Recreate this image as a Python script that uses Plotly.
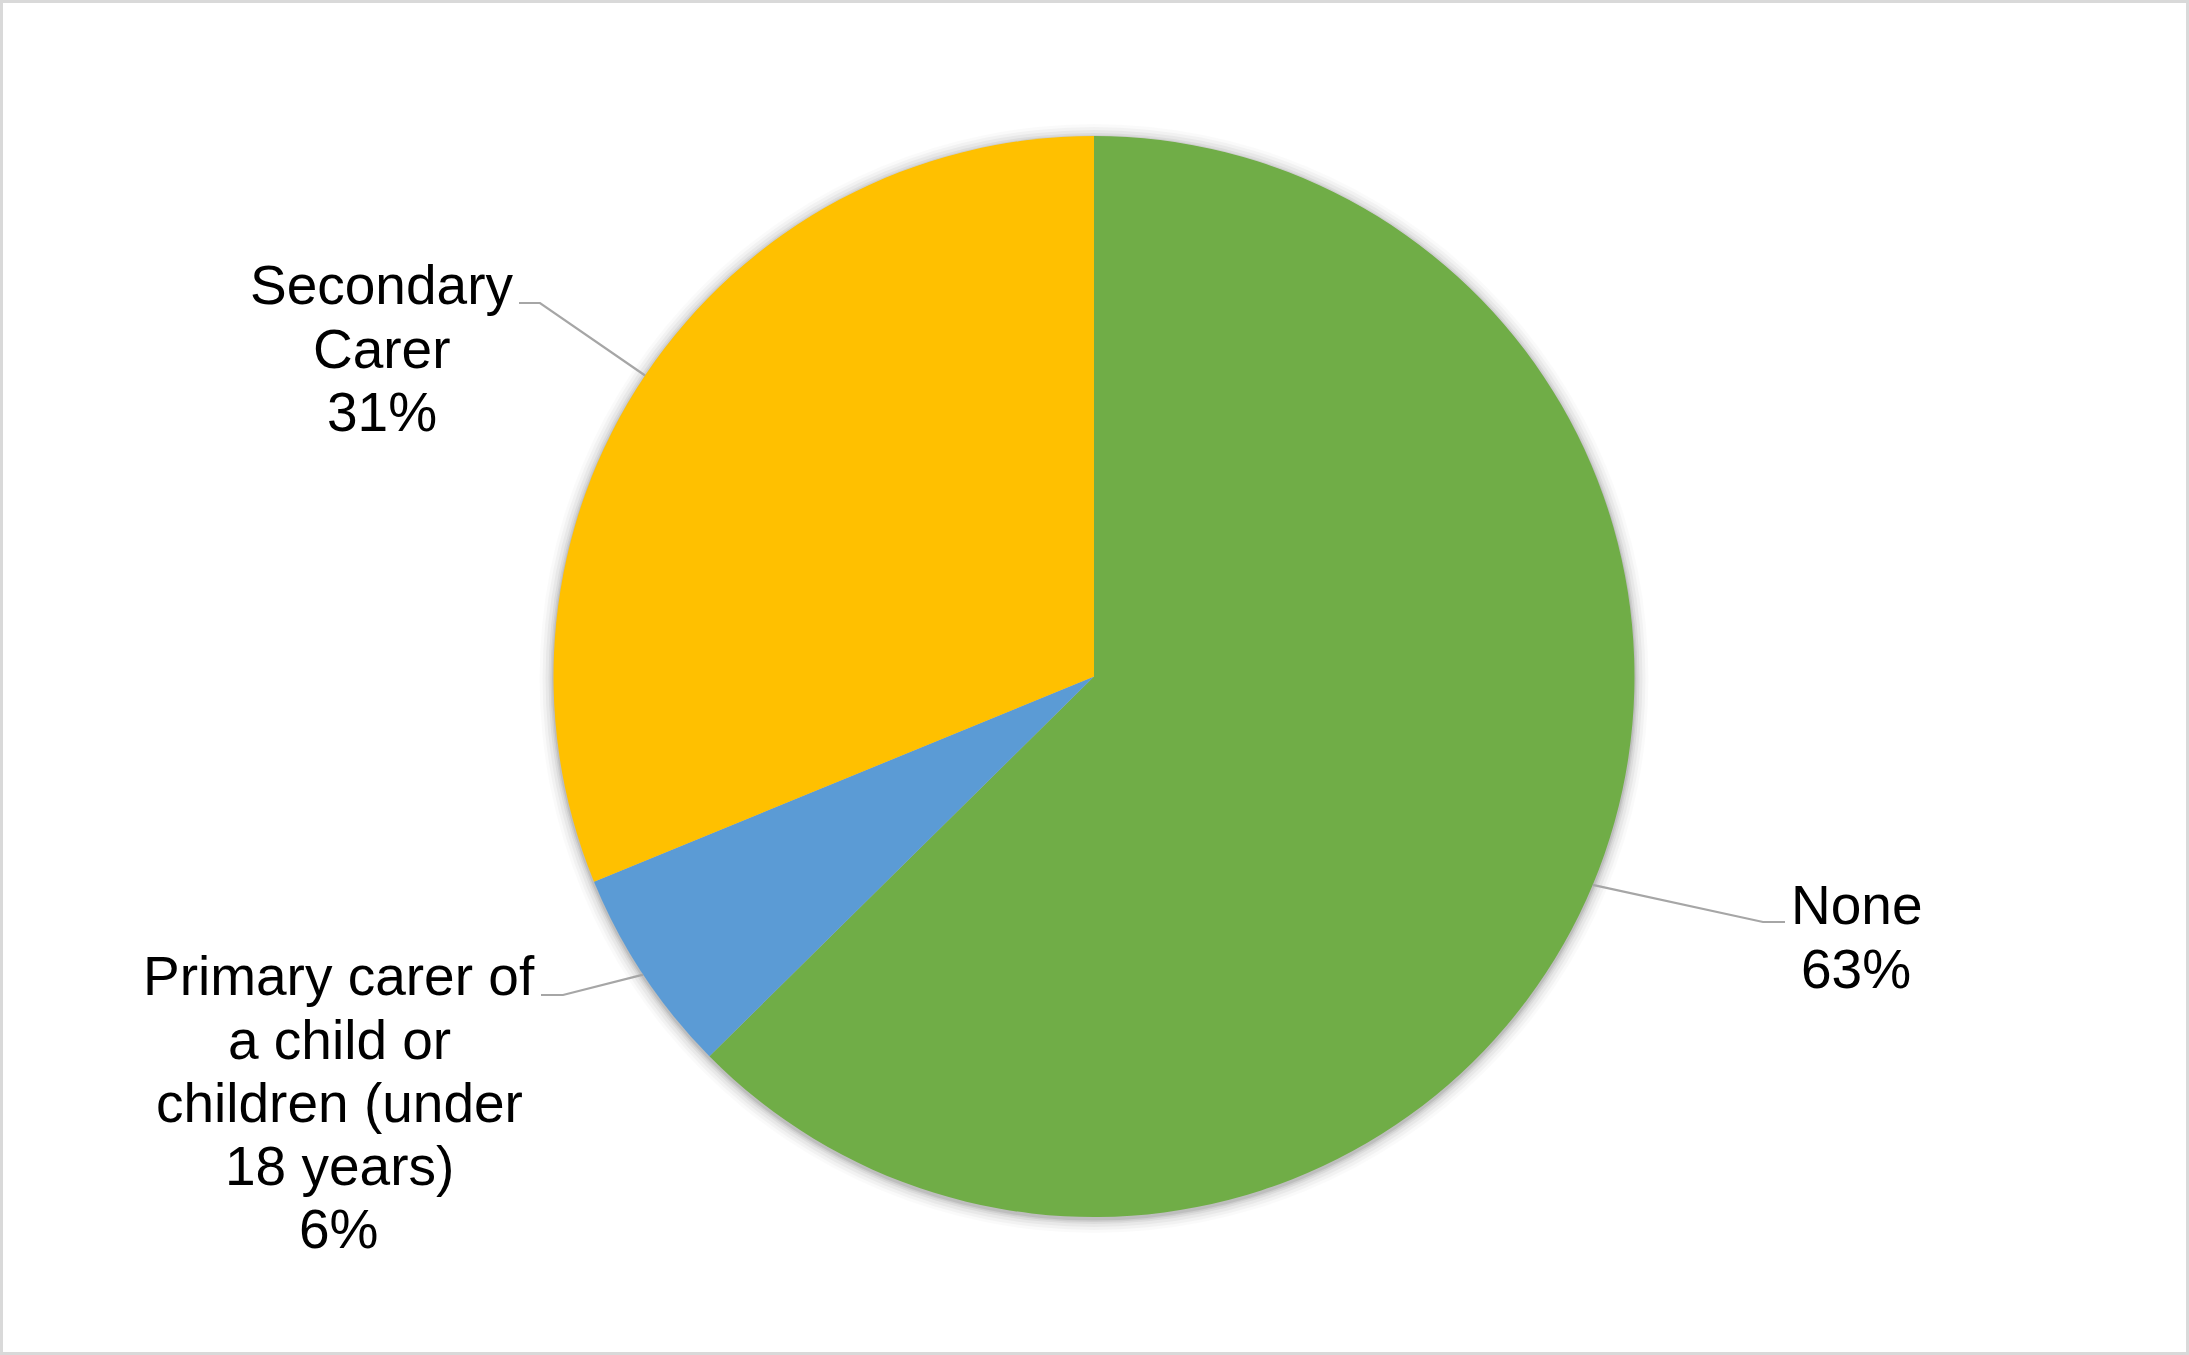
import math
import plotly.graph_objects as go

# ---- data ----
categories = ["None", "Primary carer of a child or children (under 18 years)", "Secondary Carer"]
values = [62.6, 6.2, 31.2]
colors = ["#70AD47", "#5B9BD5", "#FFC000"]
# wrapped label lines (layout of text only)
label_lines = [["None"], ["Primary carer of", "a child or", "children (under", "18 years)"], ["Secondary", "Carer"]]

# ---- layout constants (pixels) ----
W, H = 2189, 1355
cx, cy, R = 1094, 676.5, 540.5
FS = 55
LINE_STEP = 63.3
label_cx = [1856, 339, 381.5]
label_first_baseline = [924.5, 995.5, 304.5]
leader_text_end = [(1785, 922), (541, 995), (519, 303)]
leader_elbow = [(1763, 922), (563, 995), (540, 303)]


def px(x):
    return x / W


def py(y):
    return 1 - y / H


fig = go.Figure()
fig.add_trace(go.Pie(
    labels=categories,
    values=values,
    sort=False,
    direction="clockwise",
    rotation=0,
    marker=dict(colors=colors, line=dict(width=0)),
    textinfo="none",
    hoverinfo="label+percent",
    showlegend=False,
    domain=dict(x=[px(cx - R), px(cx + R)], y=[py(cy + R), py(cy - R)]),
))

shapes = []
# soft shadow around the pie
for dr, a in [(14, 0.02), (11, 0.03), (8, 0.04), (5, 0.05), (3, 0.06), (1.5, 0.08)]:
    r = R + dr
    oy = 2
    shapes.append(dict(type="circle", xref="paper", yref="paper", layer="below",
                       x0=px(cx - r), x1=px(cx + r), y0=py(cy + oy + r), y1=py(cy + oy - r),
                       fillcolor=f"rgba(0,0,0,{a})", line=dict(width=0)))

# border
shapes.append(dict(type="rect", xref="paper", yref="paper",
                   x0=px(1.5), x1=px(W - 1.5), y0=py(H - 1.5), y1=py(1.5),
                   line=dict(color="#D9D9D9", width=3), fillcolor="rgba(0,0,0,0)"))

total = sum(values)
annotations = []
cum = 0
for i, v in enumerate(values):
    mid = (cum + v / 2) / total * 2 * math.pi
    cum += v
    ex = cx + R * math.sin(mid)
    ey = cy - R * math.cos(mid)
    t0, el = leader_text_end[i], leader_elbow[i]
    path = f"M {px(t0[0])} {py(t0[1])} L {px(el[0])} {py(el[1])} L {px(ex)} {py(ey)}"
    shapes.append(dict(type="path", xref="paper", yref="paper", path=path,
                       line=dict(color="#A6A6A6", width=2.2)))
    lines = label_lines[i] + [f"{v / total * 100:.0f}%"]
    for j, t in enumerate(lines):
        base = label_first_baseline[i] + j * LINE_STEP
        annotations.append(dict(
            x=px(label_cx[i]), y=py(base - 0.35 * FS), xref="paper", yref="paper",
            text=t, showarrow=False, xanchor="center", yanchor="middle",
            font=dict(family="Liberation Sans, Arial, sans-serif", size=FS, color="#000000"),
        ))

fig.update_layout(
    width=W, height=H,
    margin=dict(l=0, r=0, t=0, b=0),
    paper_bgcolor="#FFFFFF",
    plot_bgcolor="#FFFFFF",
    shapes=shapes,
    annotations=annotations,
    showlegend=False,
)

fig.write_html(
    "out.html",
    config={"displayModeBar": False},
    post_script="document.body.style.margin='0';document.body.style.padding='0';document.body.style.overflow='hidden';",
)
